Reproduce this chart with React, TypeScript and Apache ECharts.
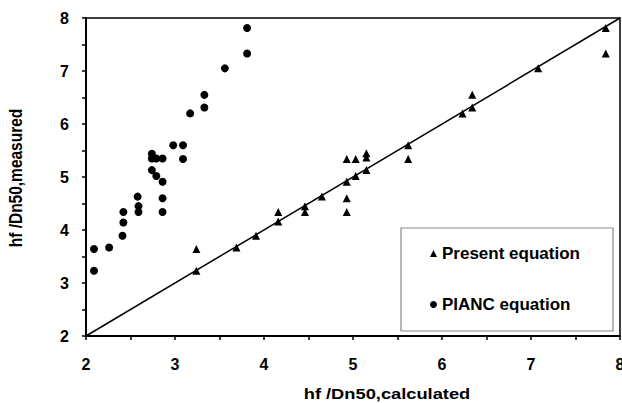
import React, { useEffect, useRef } from "react";
import * as echarts from "echarts";

const presentX = [3.24, 3.24, 3.69, 3.91, 4.16, 4.16, 4.46, 4.46, 4.65, 4.93, 4.93, 4.93, 4.93, 5.03, 5.03, 5.15, 5.15, 5.15, 5.62, 5.62, 6.23, 6.34, 6.34, 7.08, 7.84, 7.84];
const presentY = [3.23, 3.64, 3.67, 3.89, 4.16, 4.34, 4.34, 4.45, 4.63, 4.34, 4.6, 4.91, 5.34, 5.02, 5.34, 5.13, 5.37, 5.45, 5.34, 5.6, 6.2, 6.31, 6.55, 7.05, 7.33, 7.81];
const piancX = [2.09, 2.09, 2.26, 2.41, 2.42, 2.42, 2.59, 2.59, 2.58, 2.74, 2.74, 2.74, 2.79, 2.79, 2.86, 2.86, 2.86, 2.86, 2.98, 3.09, 3.09, 3.17, 3.33, 3.33, 3.56, 3.81, 3.81];
const piancY = [3.23, 3.64, 3.67, 3.89, 4.14, 4.34, 4.34, 4.45, 4.63, 5.13, 5.35, 5.44, 5.02, 5.35, 4.91, 4.6, 4.34, 5.35, 5.6, 5.6, 5.34, 6.2, 6.31, 6.55, 7.05, 7.33, 7.81];
const lineX = [2, 8];
const lineY = [2, 8];
const seriesNames = ["Present equation", "PIANC equation"];
const xTitle = "hf /Dn50,calculated";
const yTitle = "hf /Dn50,measured";

const FONT = "'Liberation Sans', Arial, Helvetica, sans-serif";

export default function App() {
  const ref = useRef<HTMLDivElement>(null);
  useEffect(() => {
    document.body.style.margin = "0";
    const chart = echarts.init(ref.current!, null, { renderer: "svg" });
    const zip = (xs: number[], ys: number[]) => xs.map((x, i) => [x, ys[i]]);
    const axisCommon = {
      type: "value",
      min: 2,
      max: 8,
      interval: 0.5,
      splitLine: { show: false },
      axisLine: { show: true, lineStyle: { color: "#000", width: 2 } },
      axisTick: { show: true, inside: false, length: 4, lineStyle: { color: "#000", width: 1.5 } },
      axisLabel: {
        color: "#000",
        fontSize: 16,
        fontWeight: "bold",
        fontFamily: FONT,
        showMaxLabel: true,
        showMinLabel: true,
        hideOverlap: false,
        formatter: (v: number) => (Math.abs(v - Math.round(v)) < 1e-9 ? String(Math.round(v)) : ""),
      },
    };
    chart.setOption({
      animation: false,
      backgroundColor: "#fff",
      grid: {
        left: 86,
        right: 2,
        top: 18,
        bottom: 67,
        containLabel: false,
        outerBoundsMode: "none",
        show: true,
        borderColor: "#000",
        borderWidth: 1.5,
        backgroundColor: "transparent",
      },
      xAxis: { ...axisCommon, axisLabel: { ...axisCommon.axisLabel, margin: 20 } },
      yAxis: { ...axisCommon, axisLabel: { ...axisCommon.axisLabel, margin: 17 } },
      legend: {
        show: true,
        orient: "vertical",
        left: 430,
        top: 245,
        z: 10,
        itemWidth: 7,
        itemHeight: 7,
        itemGap: 34,
        padding: 0,
        data: [
          { name: seriesNames[0], icon: "triangle" },
          { name: seriesNames[1], icon: "circle" },
        ],
        textStyle: { color: "#000", fontSize: 17, fontWeight: "bold", fontFamily: FONT, lineHeight: 17 },
      },
      graphic: [
        {
          type: "rect",
          z: 1,
          shape: { x: 401, y: 228, width: 212, height: 103 },
          style: { fill: "#fff", stroke: "#8a8a8a", lineWidth: 1.2 },
        },
        {
          type: "text",
          x: 387,
          y: 394,
          scaleX: 1.18,
          style: {
            text: xTitle,
            fill: "#000",
            font: `bold 15.5px ${FONT}`,
            textAlign: "center",
            textVerticalAlign: "middle",
          },
        },
        {
          type: "text",
          x: 16,
          y: 178,
          rotation: Math.PI / 2,
          scaleY: 1.18,
          style: {
            text: yTitle,
            fill: "#000",
            font: `bold 15.5px ${FONT}`,
            textAlign: "center",
            textVerticalAlign: "middle",
          },
        },
      ],
      series: [
        {
          name: "diagonal",
          type: "line",
          data: zip(lineX, lineY),
          showSymbol: false,
          symbol: "none",
          silent: true,
          lineStyle: { color: "#000", width: 1.5 },
          z: 2,
        },
        {
          name: seriesNames[0],
          type: "scatter",
          symbol: "triangle",
          symbolSize: 8,
          itemStyle: { color: "#000", opacity: 1 },
          data: zip(presentX, presentY),
          z: 3,
        },
        {
          name: seriesNames[1],
          type: "scatter",
          symbol: "circle",
          symbolSize: 8,
          itemStyle: { color: "#000", opacity: 1 },
          data: zip(piancX, piancY),
          z: 3,
        },
      ],
    });
    return () => chart.dispose();
  }, []);
  return <div ref={ref} style={{ position: "fixed", left: 0, top: 0, width: 622, height: 403 }} />;
}
